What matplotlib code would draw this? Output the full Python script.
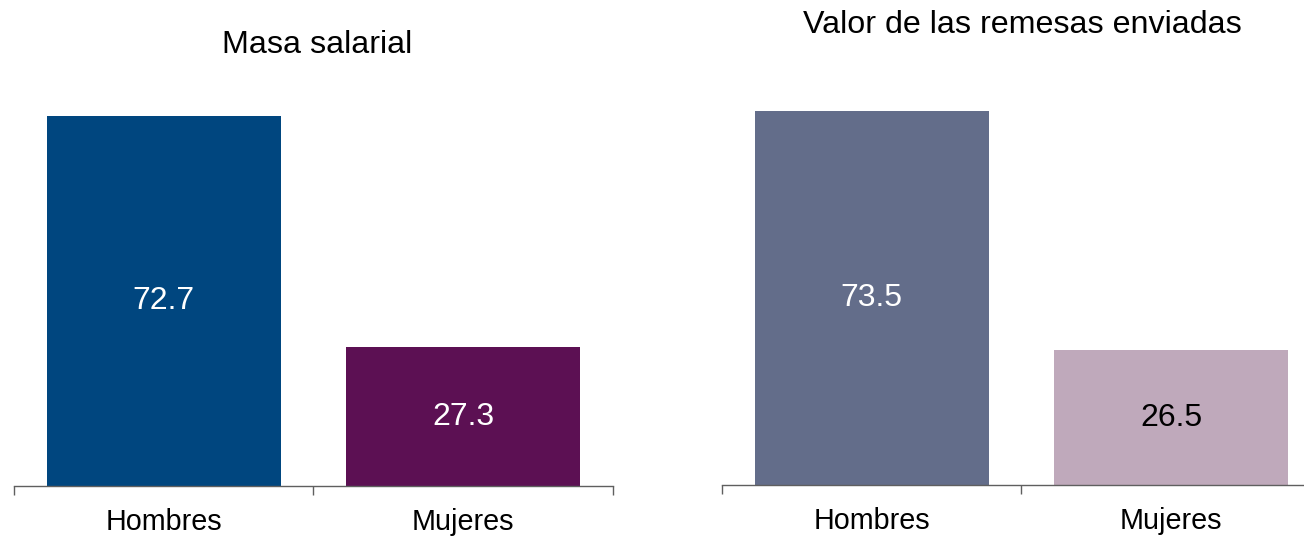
import matplotlib.pyplot as plt

plt.rcParams['font.family'] = ['Liberation Sans', 'DejaVu Sans']

categorias = ['Hombres', 'Mujeres']
masa_salarial = [72.7, 27.3]
remesas = [73.5, 26.5]

colores_masa = ['#00467f', '#5c1053']
colores_remesas = ['#636d8a', '#bfa9bb']
texto_masa = ['white', 'white']
texto_remesas = ['white', 'black']

fig = plt.figure(figsize=(13.04, 5.36), dpi=100)

# el panel derecho queda recortado por el borde de la figura
ax1 = fig.add_axes([0.01074, 0.0933, 0.4593, 0.7595])
ax2 = fig.add_axes([0.5537, 0.0951, 0.4593, 0.7595])

paneles = [
    (ax1, masa_salarial, colores_masa, texto_masa),
    (ax2, remesas, colores_remesas, texto_remesas),
]

for ax, valores, colores, txt in paneles:
    x = range(len(categorias))
    ax.bar(x, valores, width=0.78, color=colores)
    for i, v in enumerate(valores):
        ax.text(i, v / 2, f'{v:.1f}', ha='center', va='center',
                fontsize=23, color=txt[i])
    ax.set_xlim(-0.5, 1.5)
    ax.set_ylim(0, 80)
    ax.set_xticks(list(x))
    ax.set_xticklabels(categorias, fontsize=20.7)
    ax.set_xticks([-0.5, 0.5, 1.5], minor=True)
    ax.tick_params(axis='x', which='major', length=0, pad=16)
    ax.tick_params(axis='x', which='minor', length=6.5, width=1, color='#5f5f5f')
    ax.set_yticks([])
    for s in ['top', 'right', 'left']:
        ax.spines[s].set_visible(False)
    ax.spines['bottom'].set_color('#5f5f5f')
    ax.spines['bottom'].set_linewidth(1)

fig.text(317 / 1304, 1 - 45 / 536, 'Masa salarial', ha='center', va='center', fontsize=23.2)
fig.text(1022 / 1304, 1 - 25 / 536, 'Valor de las remesas enviadas', ha='center', va='center', fontsize=23.2)

fig.savefig('out.png', dpi=100)
